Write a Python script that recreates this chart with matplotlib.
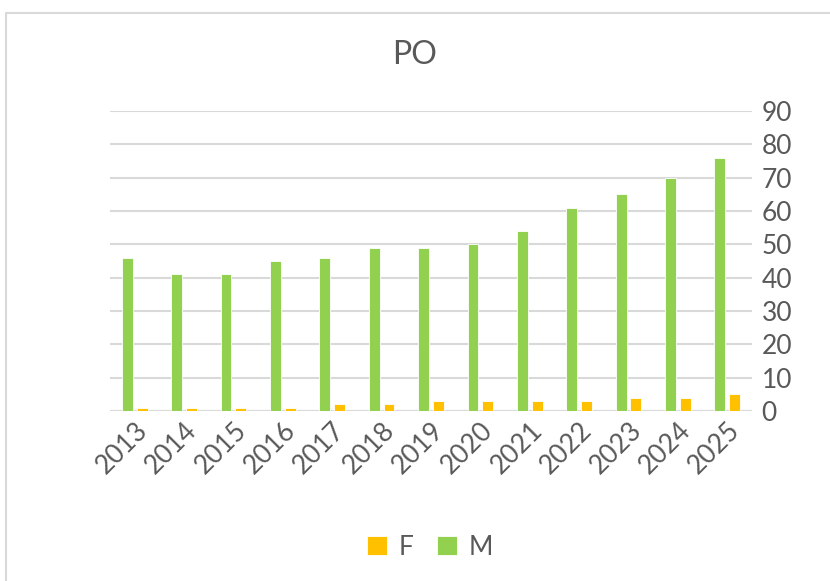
import numpy as np
import matplotlib
matplotlib.use("Agg")
import matplotlib.pyplot as plt
from matplotlib.patches import Rectangle

years = ["2013", "2014", "2015", "2016", "2017", "2018", "2019",
         "2020", "2021", "2022", "2023", "2024", "2025"]
m_vals = [46, 41, 41, 45, 46, 49, 49, 50, 54, 61, 65, 70, 76]
f_vals = [1, 1, 1, 1, 2, 2, 3, 3, 3, 3, 4, 4, 5]

green = "#92D050"
orange = "#FFC000"
text_col = "#595959"

plt.rcParams["font.family"] = ["Lato", "DejaVu Sans"]

fig = plt.figure(figsize=(8.3, 5.81), dpi=100)
ax = fig.add_axes([0.1325, 0.2926, 0.7735, 0.5164])

x = np.arange(len(years))
w = 0.22
ax.bar(x - 0.15, m_vals, w, color=green, edgecolor="white", linewidth=0.6, label="M", zorder=3)
ax.bar(x + 0.15, f_vals, w, color=orange, edgecolor="white", linewidth=0.6, label="F", zorder=3)

ax.set_xlim(-0.5, len(years) - 0.5)
ax.set_ylim(0, 90)
ax.set_yticks(range(0, 91, 10))
ax.yaxis.tick_right()
ax.grid(axis="y", color="#D9D9D9", linewidth=1.5, zorder=0)
for s in ax.spines.values():
    s.set_visible(False)
ax.tick_params(axis="y", length=0, pad=7, labelsize=19, labelcolor=text_col)
ax.tick_params(axis="x", length=0, pad=5, labelsize=19, labelcolor=text_col)
ax.set_xticks(x)
ax.set_xticklabels(years, rotation=45, ha="right", rotation_mode="anchor")
ax.axhline(0, color="#D9D9D9", linewidth=1.5, zorder=2)

fig.text(0.5, 0.905, "PO", ha="center", va="center", fontsize=23, color=text_col)

h, l = ax.get_legend_handles_labels()
fig.legend(h[::-1], l[::-1], loc="center", bbox_to_anchor=(0.518, 0.058), ncol=2,
           frameon=False, fontsize=19, labelcolor=text_col, handlelength=0.75,
           handleheight=0.75, handletextpad=0.45, columnspacing=0.9)

fig.patches.append(Rectangle((6 / 830, -0.1), 1.2, 1 - 13 / 581 + 0.1,
                             transform=fig.transFigure, fill=False,
                             edgecolor="#D9D9D9", linewidth=1.5))

fig.savefig("out.png", dpi=100)
